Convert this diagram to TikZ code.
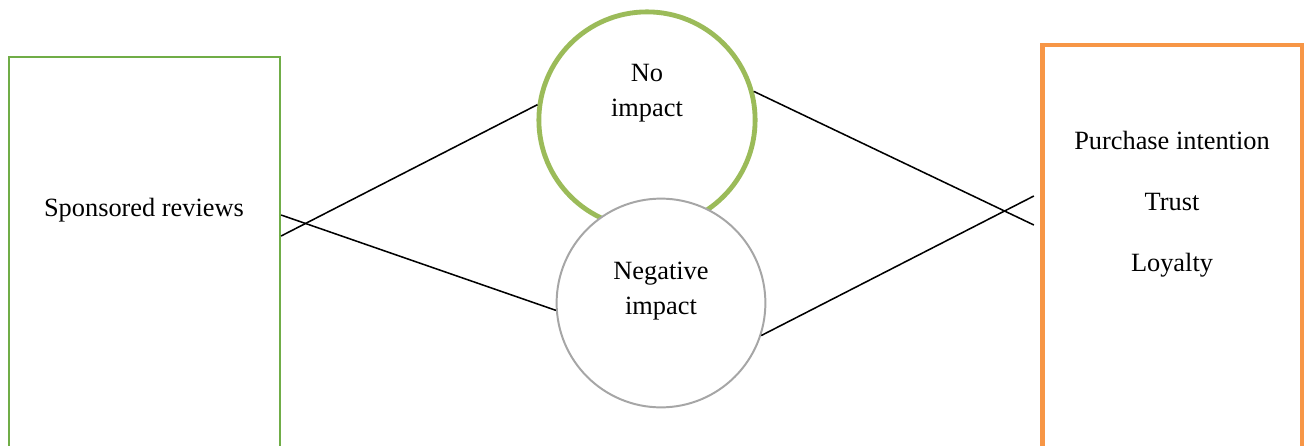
\documentclass[tikz,border=0pt]{standalone}
\usepackage{fontspec}
\setmainfont{Liberation Serif}
\definecolor{boxgreen}{RGB}{112,173,71}
\definecolor{ringgreen}{RGB}{155,187,89}
\definecolor{ringgray}{RGB}{166,166,166}
\definecolor{boxorange}{RGB}{247,150,70}
\begin{document}
\begin{tikzpicture}[
		lbl/.style = {align = center, font = \fontsize{12}{15.9}\selectfont},
		ring/.style = {circle, inner sep = 0pt, fill = white},
		link/.style = {line width = 0.7pt}
	]
	\useasboundingbox (0, 0) rectangle (20.944, 7.12);
					\node (sr) at (2.312, 2.904) [draw = boxgreen, line width = 1pt, minimum width = 4.336cm, minimum height = 6.608cm] {};
					\node (srtext) at (2.304, 3.76) [lbl] {Sponsored reviews};
					\node (noimp) at (10.352, 5.2) [ring, draw = ringgreen, line width = 2.2pt, minimum size = 3.46cm] {};
					\node (notext) at (10.352, 5.63) [lbl] {No\\impact};
					\node (negimp) at (10.576, 2.272) [ring, draw = ringgray, line width = 0.9pt, minimum size = 3.34cm] {};
					\node (negtext) at (10.576, 2.46) [lbl] {Negative\\impact};
					\node (pi) at (18.752, 3.0) [draw = boxorange, line width = 2pt, minimum width = 4.15cm, minimum height = 6.8cm] {};
					\node (pitext) at (18.752, 3.856) [lbl] {Purchase intention\\[12pt]Trust\\[12pt]Loyalty};
						\draw[link] ([yshift = 0.44cm]sr.east) -- (noimp.172);
						\draw[link] ([yshift = 0.776cm]sr.east) -- (negimp.184);
						\draw[link] (noimp.15) -- ([xshift = -0.1cm, yshift = 0.52cm]pi.west);
						\draw[link] (negimp.342) -- ([xshift = -0.1cm, yshift = 0.984cm]pi.west);
\end{tikzpicture}
\end{document}
